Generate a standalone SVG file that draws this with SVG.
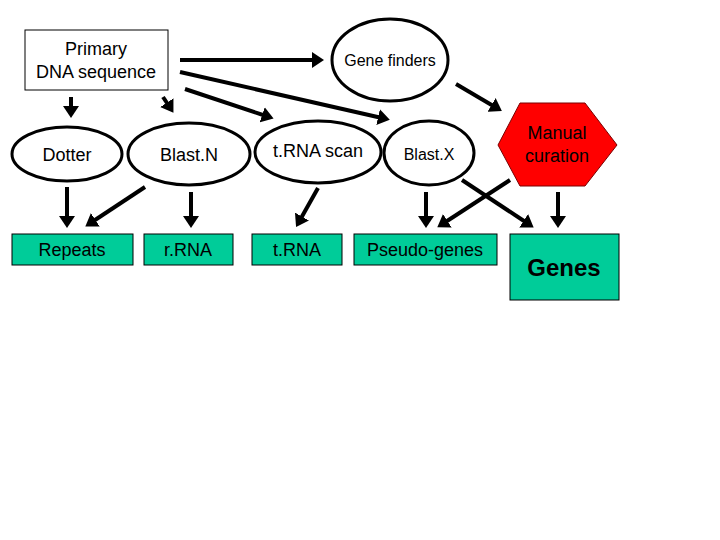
<svg xmlns="http://www.w3.org/2000/svg" width="720" height="540" viewBox="0 0 720 540">
<style>
text{font-family:"Liberation Sans",Arial,sans-serif;fill:#000;text-anchor:middle}
.el{fill:#fff;stroke:#000;stroke-width:3}
.bx{fill:#00cc99;stroke:#000;stroke-width:1}
.c line{stroke:#000;stroke-width:4;marker-end:url(#a)}
</style>
<defs><marker id="a" markerWidth="4" markerHeight="4" refX="1" refY="2" orient="auto" markerUnits="strokeWidth"><path d="M0,0L3,2L0,4z" fill="#000"/></marker></defs>
<rect width="720" height="540" fill="#fff"/>
<g class="c">
<line x1="180" y1="60" x2="316" y2="60"/>
<line x1="180" y1="72" x2="382" y2="118"/>
<line x1="185" y1="89" x2="266" y2="116"/>
<line x1="71" y1="97" x2="71" y2="110"/>
<line x1="163" y1="97" x2="169" y2="106"/>
<line x1="456" y1="84" x2="495" y2="107"/>
<line x1="67" y1="187" x2="67" y2="220"/>
<line x1="145" y1="187" x2="92" y2="222"/>
<line x1="191" y1="192" x2="191" y2="220"/>
<line x1="318" y1="188" x2="300" y2="220"/>
<line x1="426" y1="192" x2="426" y2="220"/>
<line x1="510" y1="180" x2="444" y2="223"/>
<line x1="462" y1="180" x2="527" y2="223"/>
<line x1="558" y1="192" x2="558" y2="220"/>
</g>
<g id="primary"><rect x="25" y="30" width="143" height="60" fill="#fff" stroke="#000"/><text x="96" y="55" font-size="18">Primary</text><text x="96" y="78" font-size="18">DNA sequence</text></g>
<g id="genefinders"><ellipse class="el" cx="390" cy="60" rx="58" ry="41"/><text x="390" y="66" font-size="16">Gene finders</text></g>
<g id="dotter"><ellipse class="el" cx="67" cy="154" rx="55" ry="27"/><text x="67" y="161" font-size="18">Dotter</text></g>
<g id="blastn"><ellipse class="el" cx="189" cy="154" rx="61" ry="31"/><text x="189" y="161" font-size="18">Blast.N</text></g>
<g id="trnascan"><ellipse class="el" cx="318" cy="152" rx="63" ry="31"/><text x="318" y="157" font-size="18">t.RNA scan</text></g>
<g id="blastx"><ellipse class="el" cx="429" cy="153" rx="45" ry="32"/><text x="429" y="160" font-size="16">Blast.X</text></g>
<g id="manual"><polygon points="498,145 520,103 585,103 617,145 585,186 520,186" fill="#ff0000" stroke="#7a0000" stroke-width="1"/><text x="557" y="139" font-size="18" fill="#600">Manual</text><text x="557" y="162" font-size="18">curation</text></g>
<g id="repeats"><rect class="bx" x="12" y="234" width="121" height="31"/><text x="72" y="256" font-size="18">Repeats</text></g>
<g id="rrna"><rect class="bx" x="144" y="234" width="89" height="31"/><text x="188" y="256" font-size="18">r.RNA</text></g>
<g id="trna"><rect class="bx" x="252" y="234" width="90" height="31"/><text x="297" y="256" font-size="18">t.RNA</text></g>
<g id="pseudo"><rect class="bx" x="354" y="234" width="143" height="31"/><text x="425" y="256" font-size="18">Pseudo-genes</text></g>
<g id="genes"><rect class="bx" x="510" y="234" width="109" height="66"/><text x="564" y="276" font-size="24" font-weight="bold">Genes</text></g>
</svg>
